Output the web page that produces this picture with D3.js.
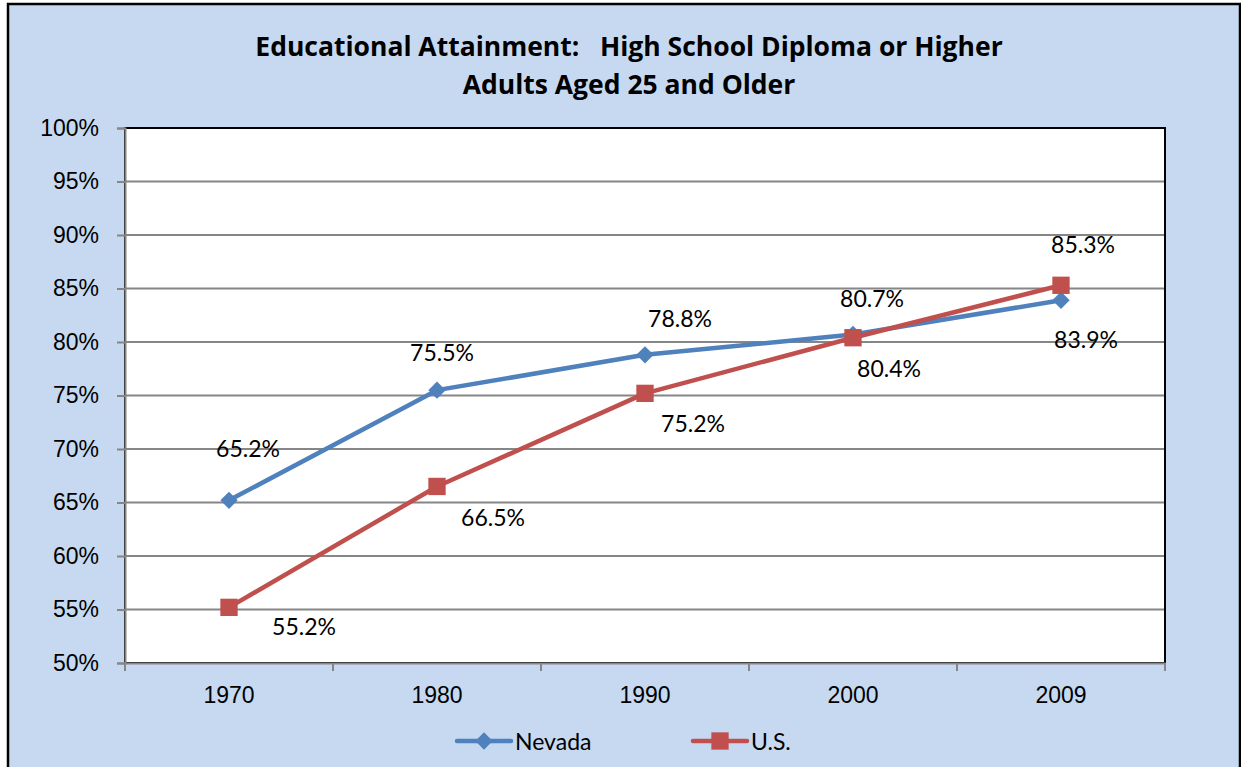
<!DOCTYPE html>
<html>
<head>
<meta charset="utf-8">
<script src="https://cdn.jsdelivr.net/npm/d3@7"></script>
<style>
  body { margin: 0; background: #fff; }
  svg { display: block; font-family: Lato, "Open Sans", sans-serif; }
</style>
</head>
<body>
<div id="chart"></div>
<script>
// chart data
var years = ['1970', '1980', '1990', '2000', '2009']
var nevada = [65.2, 75.5, 78.8, 80.7, 83.9]
var us = [55.2, 66.5, 75.2, 80.4, 85.3]
var yTicks = [50, 55, 60, 65, 70, 75, 80, 85, 90, 95, 100]
var titleLines = ['Educational Attainment:   High School Diploma or Higher', 'Adults Aged 25 and Older']

// hand-placed label offsets (dx, dy) as in the source chart
var nevadaLabelOff = [[19, -52], [5, -38], [35, -37], [19, -37], [25, 39]]
var usLabelOff = [[75, 19], [56, 31], [48, 30], [36, 30], [22, -41]]

var W = 1241, H = 767
var plot = { left: 125, top: 128, right: 1165, bottom: 663 }

var svg = d3.select('#chart').append('svg')
  .attr('width', W)
  .attr('height', H)

svg.append('rect')
  .attr('x', 8)
  .attr('y', 4)
  .attr('width', 1232)
  .attr('height', 780)
  .style('fill', '#c6d9f1')
  .style('stroke', '#000')
  .style('stroke-width', 2.5)

svg.append('text')
  .attr('x', 629)
  .attr('y', 46)
  .style('text-anchor', 'middle')
  .style('dominant-baseline', 'central')
  .style('font-family', '"Open Sans", Lato, sans-serif')
  .style('font-weight', 700)
  .style('font-size', '26.5px')
  .style('white-space', 'pre')
  .selectAll('tspan').data(titleLines).enter().append('tspan')
  .attr('x', 629)
  .attr('dy', (d, i) => i === 0 ? 0 : 38)
  .text(d => d)

var xMap = d3.scaleBand()
  .domain(years)
  .range([plot.left, plot.right])

var yMap = d3.scaleLinear()
  .domain([50, 100])
  .range([plot.bottom, plot.top])

svg.append('rect')
  .attr('x', plot.left)
  .attr('y', plot.top)
  .attr('width', plot.right - plot.left)
  .attr('height', plot.bottom - plot.top)
  .style('fill', '#fff')
  .style('stroke', '#000')
  .style('stroke-width', 2)

// gridlines + y axis
var yAxis = d3.axisLeft(yMap)
  .tickValues(yTicks)
  .tickSize(8)
  .tickPadding(10)
  .tickFormat(d => d + '%')

var gY = svg.append('g')
  .attr('transform', 'translate(' + plot.left + ',0)')
  .call(yAxis)

gY.selectAll('.tick line').style('stroke', '#868686').style('stroke-width', 2)
gY.select('.domain').style('stroke', '#868686').style('stroke-width', 2)
gY.selectAll('.tick text')
  .style('font-size', '23px')
  .style('fill', '#000')
  .attr('x', -26)

svg.append('g').selectAll('line')
  .data(yTicks.filter(d => d > 50 && d < 100))
  .enter().append('line')
  .attr('x1', plot.left)
  .attr('x2', plot.right - 1)
  .attr('y1', d => yMap(d))
  .attr('y2', d => yMap(d))
  .style('stroke', '#868686')
  .style('stroke-width', 2)

// x axis
var xAxis = d3.axisBottom(xMap)
  .tickSize(0)
  .tickPadding(24)

var gX = svg.append('g')
  .attr('transform', 'translate(0,' + plot.bottom + ')')
  .call(xAxis)

gX.select('.domain').style('stroke', '#868686').style('stroke-width', 2)
gX.selectAll('.tick text')
  .style('font-size', '23px')
  .style('fill', '#000')

var boundaries = years.map(d => xMap(d)).concat([plot.right])
gX.selectAll('.bound')
  .data(boundaries)
  .enter().append('line')
  .attr('x1', d => d)
  .attr('x2', d => d)
  .attr('y1', 0)
  .attr('y2', 8)
  .style('stroke', '#868686')
  .style('stroke-width', 2)

function cx(i) { return xMap(years[i]) + xMap.bandwidth() / 2 }

function drawSeries(data, color, diamond, size, offsets) {
  var g = svg.append('g')

  var line = d3.line()
    .x((d, i) => cx(i))
    .y(d => yMap(d))

  g.append('path')
    .datum(data)
    .style('fill', 'none')
    .style('stroke', color)
    .style('stroke-width', 4.5)
    .style('stroke-linejoin', 'round')
    .style('stroke-linecap', 'round')
    .attr('d', line)

  g.selectAll('.marker')
    .data(data)
    .enter().append('path')
    .attr('d', d3.symbol().type(d3.symbolSquare).size(size))
    .attr('transform', (d, i) => 'translate(' + cx(i) + ',' + yMap(d) + ') rotate(' + (diamond ? 45 : 0) + ')')
    .style('fill', color)

  g.selectAll('.label')
    .data(data)
    .enter().append('text')
    .attr('x', (d, i) => cx(i) + offsets[i][0])
    .attr('y', (d, i) => yMap(d) + offsets[i][1])
    .style('text-anchor', 'middle')
    .style('dominant-baseline', 'central')
    .style('font-size', '23px')
    .text(d => d.toFixed(1) + '%')
}

drawSeries(nevada, '#4f81bd', true, 150, nevadaLabelOff)
drawSeries(us, '#c0504d', false, 300, usLabelOff)

// legend
var legend = [
  { name: 'Nevada', color: '#4f81bd', x: 457, diamond: true },
  { name: 'U.S.', color: '#c0504d', x: 693, diamond: false }
]

var gL = svg.append('g')
gL.selectAll('line')
  .data(legend)
  .enter().append('line')
  .attr('x1', d => d.x)
  .attr('x2', d => d.x + 54)
  .attr('y1', 741)
  .attr('y2', 741)
  .style('stroke', d => d.color)
  .style('stroke-width', 4.5)
  .style('stroke-linecap', 'round')

gL.selectAll('.lm')
  .data(legend)
  .enter().append('path')
  .attr('d', d => d3.symbol().type(d3.symbolSquare).size(d.diamond ? 150 : 300)())
  .attr('transform', d => 'translate(' + (d.x + 27) + ',741) rotate(' + (d.diamond ? 45 : 0) + ')')
  .style('fill', d => d.color)

gL.selectAll('text')
  .data(legend)
  .enter().append('text')
  .attr('x', d => d.x + 58)
  .attr('y', 741)
  .style('dominant-baseline', 'central')
  .style('font-size', '23px')
  .text(d => d.name)
</script>
</body>
</html>
